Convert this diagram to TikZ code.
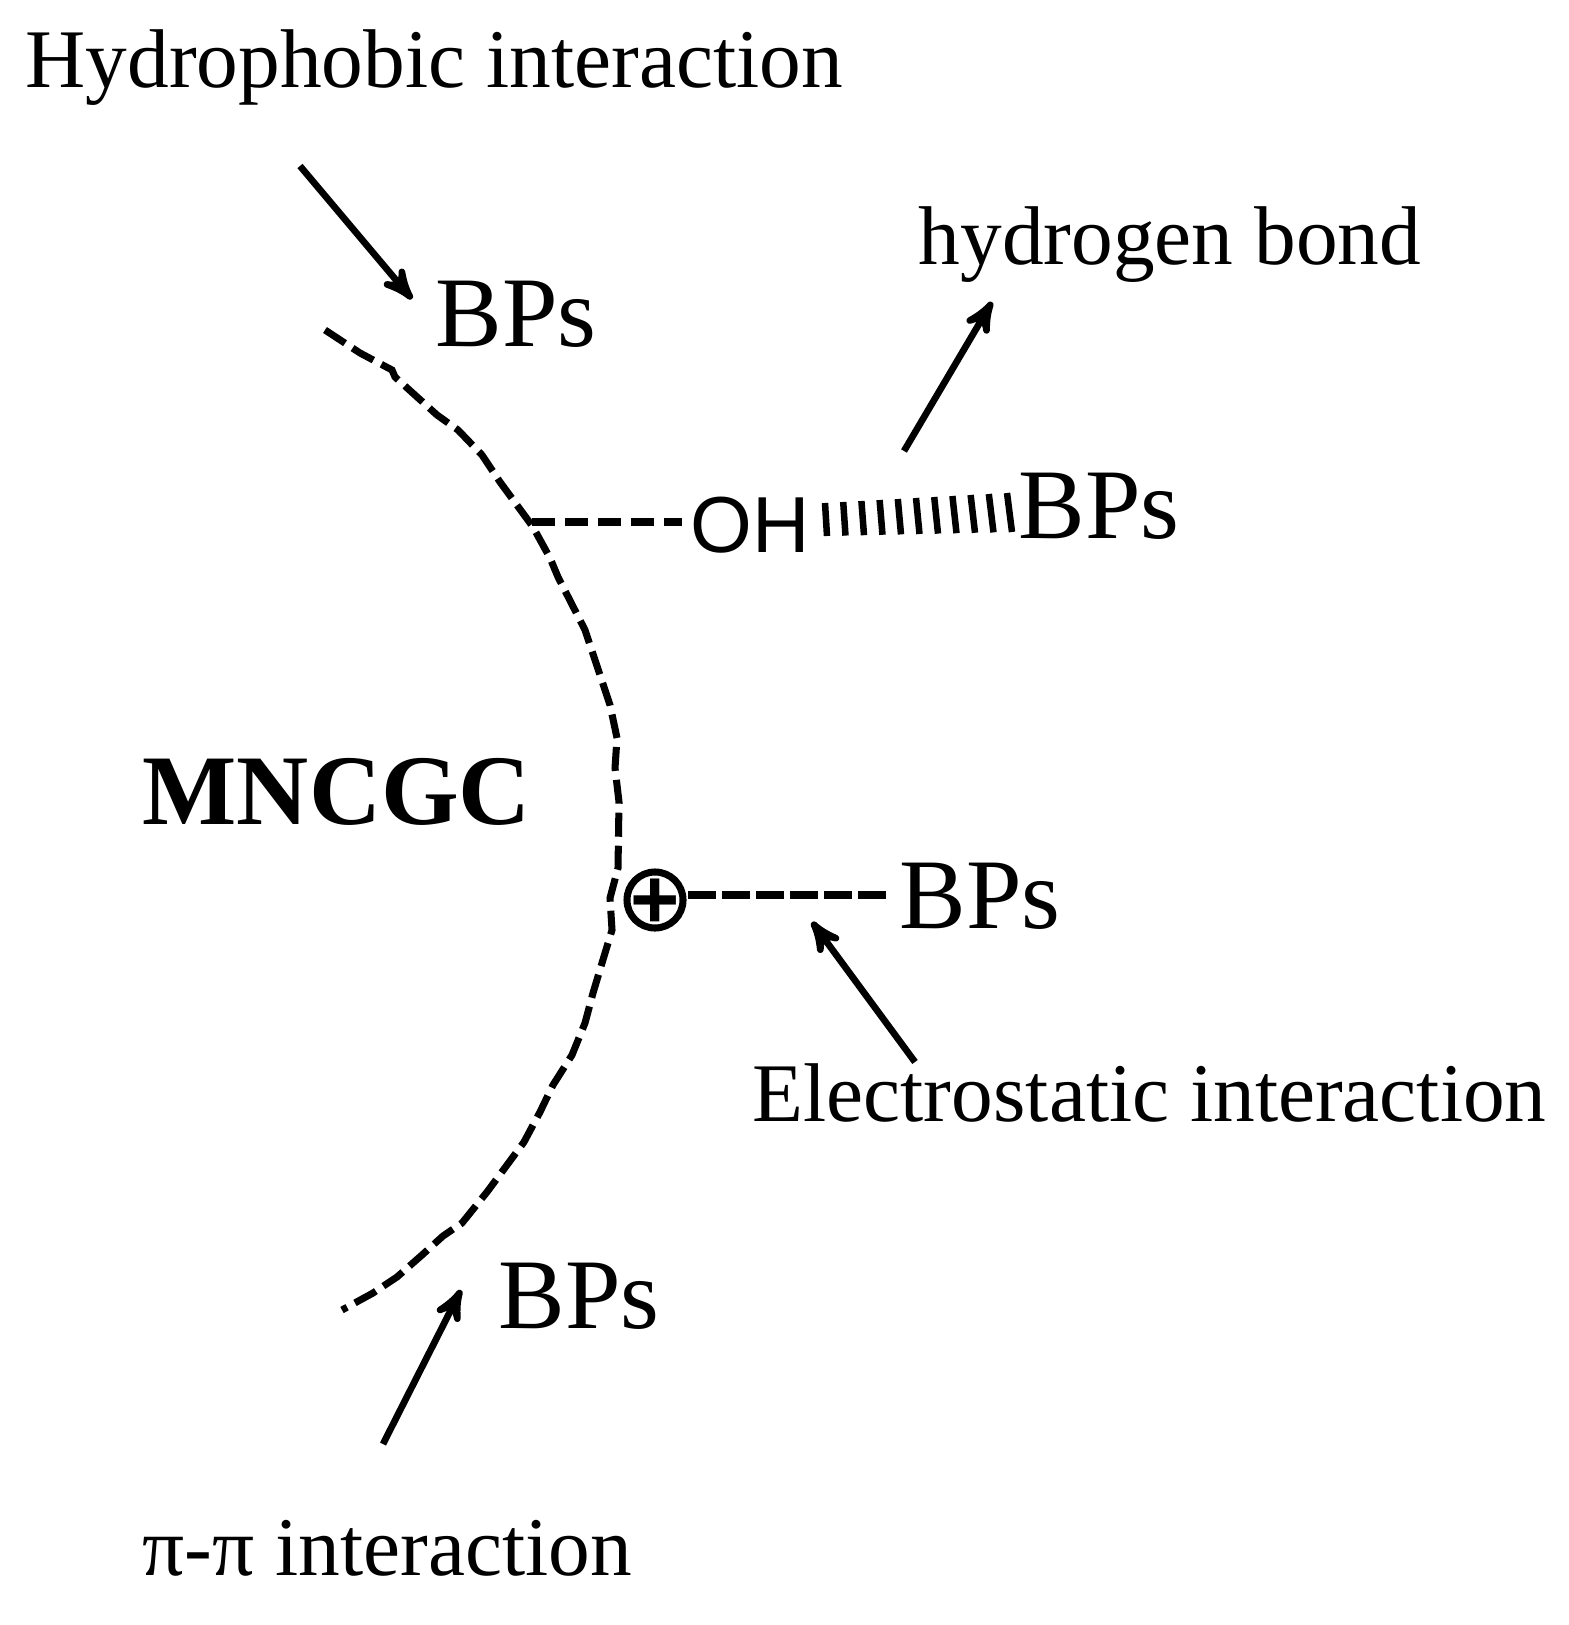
\documentclass[tikz,border=0pt]{standalone}
\usepackage{fontspec}
\setmainfont{Liberation Serif}
\newfontfamily\ohfont{Liberation Sans}
\usetikzlibrary{arrows}
\tikzset{
	x=0.01cm,
	y=-0.01cm,
	>=stealth',
	label/.style={anchor=base west, inner sep=0pt, font=\fontsize{23.7}{28}\selectfont},
	bps/.style={anchor=base west, inner sep=0pt, font=\fontsize{28.4}{32}\selectfont},
	group/.style={anchor=base west, inner sep=0pt, font=\ohfont\fontsize{22.6}{26}\selectfont},
	pointer/.style={->, line width=1.9pt},
	bond/.style={line width=2pt, dash pattern=on 0.23cm off 0.1cm},
	surface/.style={line width=2pt, dash pattern=on 0.24cm off 0.09cm},
	hatch/.style={line width=1.85pt}}
\begin{document}
\begin{tikzpicture}
		\useasboundingbox (0,0) rectangle (1568,1625);
		
		\node[label] (hydro) at (25,88) {Hydrophobic interaction};
		\node[label] (hbond) at (918,265) {hydrogen bond};
		\node[label] (elec) at (752,1121) {Electrostatic interaction};
		\node[label] (pipi) at (142,1575) {π-π interaction};
		\node[bps, font=\bfseries\fontsize{28.4}{32}\selectfont] (mncgc) at (142,824) {MNCGC};
		
		\node[bps] (bpsa) at (435,347) {BPs};
		\node[group] (oh) at (690,552) {OH};
		\node[bps] (bpsb) at (1018,538) {BPs};
		\node[bps] (bpsc) at (899,928) {BPs};
		\node[bps] (bpsd) at (498,1328) {BPs};
		\node[circle, draw, line width=2pt, minimum size=0.56cm, inner sep=0pt, font=\ohfont\bfseries\fontsize{24}{28}\selectfont] (plus) at (655,900) {\makebox[0pt]{\raisebox{-0.34em}[0pt][0pt]{+}}};
		
		\coordinate (surfoh) at (532,522);
		\coordinate (bondplus) at (688,895);
		\coordinate (hydrotail) at (300,166);
		\coordinate (hydrotip) at (412,299);
		\coordinate (hbondtail) at (904,451);
		\coordinate (hbondtip) at (992,302);
		\coordinate (electail) at (915,1062);
		\coordinate (electip) at (812,922);
		\coordinate (pitail) at (383,1444);
		\coordinate (pitip) at (461,1290);
		
		\draw[surface] (325,330) -- (360,353) -- (392,370) -- (395,377) -- (437,415) -- (458,430)
			-- (482,455) -- (500,482) -- (533,527) -- (550,558) -- (558,577) -- (585,630)
			-- (600,675) -- (610,705) -- (617,738) -- (615,768) -- (619,802) -- (618,868)
			-- (610,898) -- (612,930) -- (602,963) -- (593,993) -- (585,1023) -- (572,1055)
			-- (553,1085) -- (540,1112) -- (524,1142) -- (507,1165) -- (487,1192) -- (462,1223)
			-- (443,1236) -- (422,1255) -- (397,1277) -- (373,1293) -- (342,1310);
		
		\draw[bond, shorten >=0.08cm] (surfoh) -- (oh.west |- surfoh);
		\draw[bond, dash pattern=on 0.28cm off 0.06cm, shorten >=0.13cm] (bondplus) -- (bpsc.west |- bondplus);
		
		\foreach \i in {0,...,10}
			\draw[hatch] (825+18.2*\i,503-\i) -- (827+18.5*\i,536-0.4*\i);
		
		\draw[pointer] (hydrotail) -- (hydrotip);
		\draw[pointer] (hbondtail) -- (hbondtip);
		\draw[pointer] (electail) -- (electip);
		\draw[pointer] (pitail) -- (pitip);
	\end{tikzpicture}
\end{document}
